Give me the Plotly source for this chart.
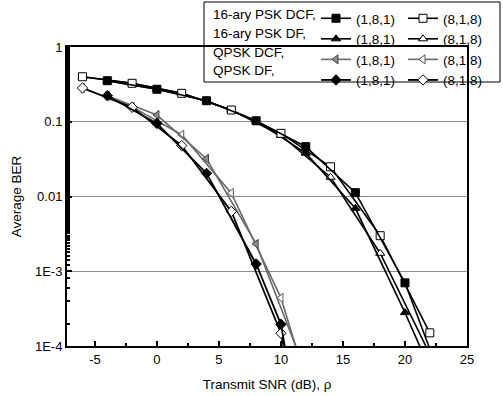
import plotly.graph_objects as go

# ---------------- data ----------------
snr_16_181 = [-4, 0, 4, 8, 12, 16, 20, 24]
snr_16_818 = [-6, -2, 2, 6, 10, 14, 18, 22]
psk16_dcf_181 = [0.354, 0.272, 0.191, 0.103, 0.0464, 0.01125, 7.0e-4, 1.2e-5]
psk16_df_181 = [0.354, 0.272, 0.191, 0.103, 0.038, 0.00695, 2.8e-4, 8.7e-6]
psk16_dcf_818 = [0.40, 0.327, 0.24, 0.1436, 0.070, 0.025, 0.00299, 1.5e-4]
psk16_df_818 = [0.40, 0.327, 0.24, 0.1436, 0.066, 0.0181, 0.00174, 7.8e-5]

snr_qdf_181 = [-4, 0, 4, 8, 10, 12]
qpsk_df_181 = [0.223, 0.095, 0.0204, 0.00125, 1.95e-4, 2.5e-6]
snr_qdf_818 = [-6, -2, 2, 6, 10, 12]
qpsk_df_818 = [0.283, 0.156, 0.048, 0.0063, 1.48e-4, 3.5e-6]
snr_qdcf_181 = [-4, 0, 4, 8, 12]
qpsk_dcf_181 = [0.223, 0.123, 0.032, 0.00232, 4.5e-5]
snr_qdcf_818 = [-6, -2, 2, 6, 10, 12]
qpsk_dcf_818 = [0.283, 0.158, 0.067, 0.0111, 4.4e-4, 3.6e-5]

row_labels = ["16-ary PSK DCF,", "16-ary PSK DF,", "QPSK DCF,", "QPSK DF,"]
name_181 = "(1,8,1)"
name_818 = "(8,1,8)"

x_tickvals = [-5, 0, 5, 10, 15, 20, 25]
x_ticktext = ["-5", "0", "5", "10", "15", "20", "25"]
y_tickvals = [1e-4, 1e-3, 1e-2, 1e-1, 1]
y_ticktext = ["1E-4", "1E-3", "0.01", "0.1", "1"]

# ---------------- layout helpers ----------------
W, H = 503, 396
L, R, T, B = 67, 467, 47, 346
FONT = "Liberation Sans, Arial, sans-serif"


def px(x):
    return (x - L) / (R - L)


def py(y):
    return (B - y) / (B - T)


fig = go.Figure()


def add(x, y, sym, fill, lcolor, lwidth, legend, rank, name, mline="black"):
    fig.add_trace(go.Scatter(
        x=x, y=y, mode="lines+markers", name=name,
        line=dict(color=lcolor, width=lwidth),
        marker=dict(symbol=sym, size=8, color=fill,
                    line=dict(color=mline, width=1)),
        legend=legend, legendrank=rank, showlegend=True,
    ))


# draw order chosen so that overlapping markers look like the reference
add(snr_16_818, psk16_df_818, "triangle-up", "white", "black", 1.6, "legend2", 2, name_818)
add(snr_16_181, psk16_df_181, "triangle-up", "black", "black", 1.6, "legend", 2, name_181)
add(snr_16_818, psk16_dcf_818, "square", "white", "black", 1.6, "legend2", 1, name_818)
add(snr_16_181, psk16_dcf_181, "square", "black", "black", 1.6, "legend", 1, name_181)
add(snr_qdcf_818, qpsk_dcf_818, "triangle-left", "white", "#6a6a6a", 1.6, "legend2", 3, name_818, mline="#555")
add(snr_qdcf_181, qpsk_dcf_181, "triangle-left", "#8a8a8a", "#6a6a6a", 1.6, "legend", 3, name_181, mline="#444")
add(snr_qdf_818, qpsk_df_818, "diamond", "white", "black", 1.8, "legend2", 4, name_818)
add(snr_qdf_181, qpsk_df_181, "diamond", "black", "black", 1.8, "legend", 4, name_181)

row_y = [14, 33, 52, 71]
annotations = [
    dict(x=px(211), y=py(ry), xref="paper", yref="paper", text=t,
         showarrow=False, xanchor="left", yanchor="middle",
         font=dict(family=FONT, size=13.5, color="black"))
    for t, ry in zip(row_labels, row_y)
]

leg_common = dict(yanchor="top", xanchor="left", bgcolor="rgba(0,0,0,0)",
                  borderwidth=0, font=dict(family=FONT, size=13.5, color="black"),
                  itemwidth=30, tracegroupgap=0, traceorder="normal")

fig.update_layout(
    width=W, height=H,
    margin=dict(l=L, r=W - R, t=T, b=H - B, autoexpand=False),
    paper_bgcolor="white", plot_bgcolor="white",
    font=dict(family=FONT, size=12, color="black"),
    legend=dict(x=px(316), y=py(3), **leg_common),
    legend2=dict(x=px(403), y=py(3), **leg_common),
    annotations=annotations,
    shapes=[dict(type="rect", xref="paper", yref="paper",
                 x0=px(204), x1=px(500), y0=py(82), y1=py(2),
                 line=dict(color="black", width=1), fillcolor="rgba(0,0,0,0)",
                 layer="above")],
    xaxis=dict(
        range=[-7.25, 25], tickvals=x_tickvals, ticktext=x_ticktext,
        ticks="inside", ticklen=5,
        tickwidth=1.5, tickcolor="black", showgrid=False, zeroline=False,
        showline=True, linecolor="black", linewidth=2, mirror=True,
        minor=dict(dtick=2.5, tick0=0, ticks="inside", ticklen=3, tickcolor="black", showgrid=False),
        tickfont=dict(family=FONT, size=13),
        title=dict(text="Transmit SNR (dB), ρ", font=dict(family=FONT, size=13.5), standoff=14),
    ),
    yaxis=dict(
        type="log", range=[-4, 0], tickvals=y_tickvals, ticktext=y_ticktext,
        ticks="inside", ticklen=5, tickwidth=1.5, tickcolor="black",
        showgrid=True, gridcolor="#8c8c8c", gridwidth=1, zeroline=False,
        showline=True, linecolor="black", linewidth=2, mirror=True,
        minor=dict(ticks="inside", ticklen=3, tickcolor="black", showgrid=False),
        tickfont=dict(family=FONT, size=13),
        title=dict(text="Average BER", font=dict(family=FONT, size=13.5), standoff=10),
    ),
)

fig.write_html("out.html", config={"displayModeBar": False},
               post_script="document.body.style.margin='0';document.body.style.overflow='hidden';")
